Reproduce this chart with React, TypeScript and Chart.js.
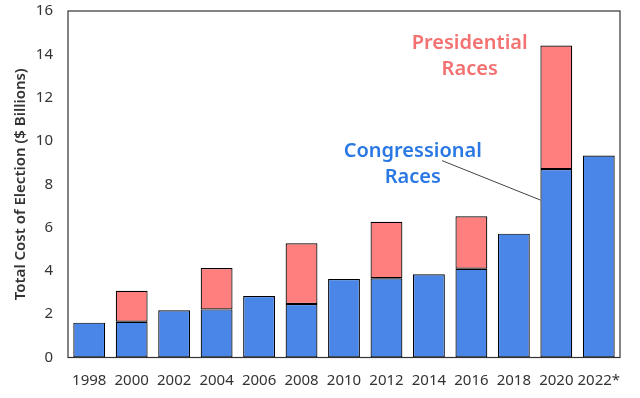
import React, { useEffect, useRef } from "react";
import { Chart, registerables } from "chart.js";

Chart.register(...registerables);

const years = ["1998", "2000", "2002", "2004", "2006", "2008", "2010", "2012", "2014", "2016", "2018", "2020", "2022*"];
const congressional = [1.61, 1.65, 2.18, 2.22, 2.84, 2.47, 3.62, 3.66, 3.84, 4.10, 5.72, 8.70, 9.33];
const presidential = [0, 1.43, 0, 1.91, 0, 2.80, 0, 2.61, 0, 2.42, 0, 5.71, 0];
const yTicks = [0, 2, 4, 6, 8, 10, 12, 14, 16];

const BLUE = "#4a86e8";
const SALMON = "#ff7f7f";
const FONT = "'Noto Sans', 'Open Sans', sans-serif";

const annotationPlugin = {
  id: "annotations",
  afterDraw(chart: any) {
    const { ctx, chartArea, scales } = chart;
    const x = scales.x;
    const y = scales.y;
    ctx.save();
    ctx.strokeStyle = "#333";
    ctx.lineWidth = 1.2;
    ctx.strokeRect(chartArea.left, chartArea.top, chartArea.right - chartArea.left, chartArea.bottom - chartArea.top);

    const cw = (x.right - x.left) / years.length;
    const xp = (v: number) => x.left + cw * (v + 0.5);

    ctx.font = `600 20px ${FONT}`;
    ctx.textAlign = "center";
    ctx.textBaseline = "middle";
    ctx.fillStyle = "#f47171";
    ctx.fillText("Presidential", xp(8.96), y.getPixelForValue(14.52));
    ctx.fillText("Races", xp(8.96), y.getPixelForValue(13.3));
    ctx.fillStyle = "#2a78e4";
    ctx.fillText("Congressional", xp(7.62), y.getPixelForValue(9.53));
    ctx.fillText("Races", xp(7.62), y.getPixelForValue(8.33));

    ctx.strokeStyle = "#444";
    ctx.lineWidth = 1;
    ctx.beginPath();
    ctx.moveTo(xp(8.31), y.getPixelForValue(9.09));
    ctx.lineTo(xp(11) - cw * 0.375, y.getPixelForValue(7.27));
    ctx.stroke();
    ctx.restore();
  },
};

export default function App() {
  const ref = useRef<HTMLCanvasElement>(null);
  useEffect(() => {
    document.body.style.margin = "0";
    const chart = new Chart(ref.current!, {
      type: "bar",
      data: {
        labels: years,
        datasets: [
          {
            label: "Congressional Races",
            data: congressional,
            backgroundColor: BLUE,
            borderColor: "#000",
            borderWidth: 1.2,
            borderSkipped: false,
            categoryPercentage: 0.75,
            barPercentage: 1,
          },
          {
            label: "Presidential Races",
            data: presidential.map((v) => (v === 0 ? null : v)),
            backgroundColor: SALMON,
            borderColor: "#000",
            borderWidth: 1.2,
            borderSkipped: false,
            categoryPercentage: 0.75,
            barPercentage: 1,
          },
        ],
      },
      options: {
        animation: false,
        responsive: false,
        maintainAspectRatio: false,
        layout: { padding: { top: 11, right: 20, left: 0, bottom: 0 } },
        plugins: { legend: { display: false }, tooltip: { enabled: false } },
        scales: {
          x: {
            stacked: true,
            grid: { display: false },
            border: { display: false },
            ticks: { color: "#333", font: { family: FONT, size: 15 }, padding: 6, maxRotation: 0, autoSkip: false },
            afterFit: (s: any) => { s.height = 40.5; s.paddingLeft = 0; s.paddingRight = 0; },
          },
          y: {
            stacked: true,
            min: 0,
            max: 16,
            grid: { display: false },
            border: { display: false },
            afterBuildTicks: (s: any) => { s.ticks = yTicks.map((v) => ({ value: v })); },
            ticks: { color: "#333", font: { family: FONT, size: 15 }, padding: 7 },
            title: {
              display: true,
              text: "Total Cost of Election ($ Billions)",
              color: "#333",
              font: { family: FONT, size: 15, weight: "600" },
              padding: { top: 12, bottom: 0 },
            },
            afterFit: (s: any) => { s.width = 68; s.paddingTop = 0; s.paddingBottom = 0; },
          },
        },
      },
      plugins: [annotationPlugin],
    });
    return () => chart.destroy();
  }, []);
  return <canvas ref={ref} width={640} height={398} style={{ display: "block" }} />;
}
